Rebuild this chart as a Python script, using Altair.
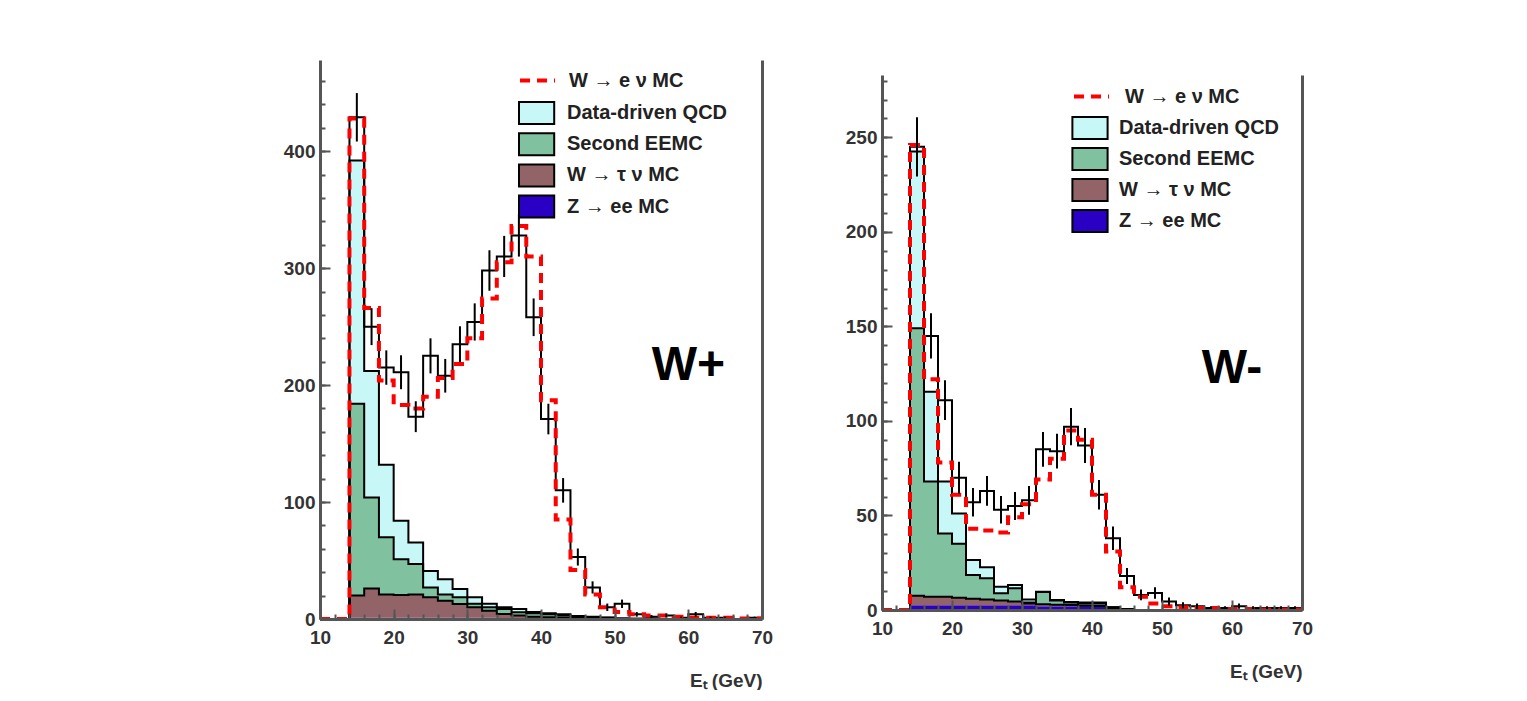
import altair as alt
import pandas as pd

# ---------------- data ----------------
bin_lo = [10, 12, 14, 16, 18, 20, 22, 24, 26, 28, 30, 32, 34, 36, 38,
          40, 42, 44, 46, 48, 50, 52, 54, 56, 58, 60, 62, 64, 66, 68]
bin_hi = [12, 14, 16, 18, 20, 22, 24, 26, 28, 30, 32, 34, 36, 38, 40,
          42, 44, 46, 48, 50, 52, 54, 56, 58, 60, 62, 64, 66, 68, 70]

comp_names = ["Data-driven QCD", "Second EEMC", "W → τ ν MC", "Z → ee MC"]
comp_colors = ["#c8f7f7", "#80c2a0", "#926468", "#2a00c4"]
mc_name = "W → e ν MC"

x_major_ticks = [10, 20, 30, 40, 50, 60, 70]
x_minor_ticks = [10, 12, 14, 16, 18, 20, 22, 24, 26, 28, 30, 32, 34, 36, 38, 40,
                 42, 44, 46, 48, 50, 52, 54, 56, 58, 60, 62, 64, 66, 68, 70]
x_title = "Eₜ (GeV)"

# W+ panel
wp_data = [0, 0, 429, 250, 215, 211, 173, 225, 208, 235, 254, 298, 310, 328, 258,
           171, 110, 53, 27, 10, 13, 4, 2, 3, 1, 4, 1, 1, 0, 1]
wp_err = [0, 0, 20.7, 15.8, 14.7, 14.5, 13.2, 15, 14.4, 15.3, 15.9, 17.3, 17.6, 18.1, 16.1,
          13.1, 10.5, 7.3, 5.2, 3.2, 3.6, 2, 1.4, 1.7, 1, 2, 1, 1, 0, 1]
wp_mc = [0, 0, 428, 266, 204, 183, 180, 190, 206, 218, 240, 274, 305, 336, 310,
         187, 85, 42, 21, 10, 6, 4, 3, 3, 2, 1, 1, 1, 0.5, 0.5]
wp_z = [0, 0, 1, 1, 1, 1, 1, 1, 1, 1, 1, 1, 0.8, 0.8, 0.6,
        0.5, 0.4, 0.3, 0.2, 0.1, 0, 0, 0, 0, 0, 0, 0, 0, 0, 0]
wp_tau = [0, 0, 19, 25, 20, 19.5, 20, 17.5, 14.7, 11.8, 9, 6, 3.5, 2.2, 1.4,
          1, 0.6, 0.5, 0.3, 0.2, 0, 0, 0, 0, 0, 0, 0, 0, 0, 0]
wp_eemc = [0, 0, 164, 78, 49, 30.5, 26, 8.5, 5.3, 5.7, 3, 3, 4.2, 2.7, 3,
           2.5, 2, 1.2, 1, 0.7, 0.5, 0.3, 0.2, 0, 0, 0, 0, 0, 0, 0]
wp_qcd = [0, 0, 208, 108, 62, 33, 18.5, 14, 13, 7.1, 5.5, 3, 1.5, 2.8, 1,
          1, 1, 0.5, 0.5, 0.3, 0, 0, 0, 0, 0, 0, 0, 0, 0, 0]
wp_ymax = 478
wp_y_major = [0, 100, 200, 300, 400]
wp_y_minor = [0, 20, 40, 60, 80, 100, 120, 140, 160, 180, 200, 220, 240, 260, 280,
              300, 320, 340, 360, 380, 400, 420, 440, 460]
wp_label = "W+"
wp_label_pos = (60, 204)

# W- panel
wm_data = [0, 0, 245, 145, 111, 70, 57, 63, 53, 55, 58, 85, 84, 97, 87,
           61, 38, 18, 8, 9, 4.5, 2.5, 2, 1, 1, 2, 1, 1, 1, 1]
wm_err = [0, 0, 15.7, 12, 10.5, 8.4, 7.5, 7.9, 7.3, 7.4, 7.6, 9.2, 9.2, 9.8, 9.3,
          7.8, 6.2, 4.2, 2.8, 3, 2.1, 1.6, 1.4, 1, 1, 1.4, 1, 1, 1, 1]
wm_mc = [0, 0, 246, 122, 78, 61, 43, 42, 41, 49, 56, 69, 80, 95, 90,
         61, 31, 12, 7, 3.5, 2, 1.5, 1, 1, 0.5, 0.5, 0.5, 0.3, 0.3, 0.3]
wm_z = [0, 0, 2.5, 2.5, 2.5, 2.5, 2.5, 2.5, 2.5, 2.5, 2.5, 2, 2, 2, 2,
        2, 1, 0.5, 0, 0, 0, 0, 0, 0, 0, 0, 0, 0, 0, 0]
wm_tau = [0, 0, 5, 4.5, 4.5, 4, 3.5, 3, 2.5, 2, 1, 1, 0.8, 0.6, 0.2,
          0.1, 0, 0, 0, 0, 0, 0, 0, 0, 0, 0, 0, 0, 0, 0]
wm_eemc = [0, 0, 141.5, 61, 33.5, 28.5, 12.5, 11.3, 3.8, 7, 0.5, 6.5, 2.2, 1.4, 1.3,
           1.4, 0.5, 0, 0, 0, 0, 0, 0, 0, 0, 0, 0, 0, 0, 0]
wm_qcd = [0, 0, 93.5, 47.5, 27.5, 16, 8, 5.8, 3.5, 1.7, 1.5, 0.2, 0.3, 0.2, 0.5,
          0.5, 0, 0, 0, 0, 0, 0, 0, 0, 0, 0, 0, 0, 0, 0]
wm_ymax = 283
wm_y_major = [0, 50, 100, 150, 200, 250]
wm_y_minor = [0, 10, 20, 30, 40, 50, 60, 70, 80, 90, 100, 110, 120, 130, 140,
              150, 160, 170, 180, 190, 200, 210, 220, 230, 240, 250, 260, 270, 280]
wm_label = "W-"
wm_label_pos = (60, 120)

# ---------------- styling ----------------
FONT = "Liberation Sans"
AX = "#555555"
BOX_PATH = "M-1.6,-1H1.6V1H-1.6Z"
TICK_FS = 19
LEG_FS = 20


def panel(data, err, mc, z, tau, eemc, qcd, ymax, y_major, y_minor,
          label, label_pos, w, h, top_gap,
          leg_x_line, leg_y_line, off_line, leg_x_fill, leg_y_fill, off_fill, row_pad):
    n = len(bin_lo)
    xs = alt.Scale(domain=[10, 70], nice=False, zero=False)
    ys = alt.Scale(domain=[0, ymax], nice=False, range=[h, top_gap])

    area_rows, outline_rows = [], []
    base = [0.0] * n
    for name, vals in [(comp_names[3], z), (comp_names[2], tau),
                       (comp_names[1], eemc), (comp_names[0], qcd)]:
        top = [b + v for b, v in zip(base, vals)]
        xs_pts = bin_lo + [bin_hi[-1]]
        b_pts = base + [base[-1]]
        t_pts = top + [top[-1]]
        for x, b0, t0 in zip(xs_pts, b_pts, t_pts):
            area_rows.append({"x": x, "y0": b0, "y1": t0, "comp": name})
            if name != comp_names[3]:
                outline_rows.append({"x": x, "y": t0, "comp": name})
        base = top
    area_df = pd.DataFrame(area_rows)
    outline_df = pd.DataFrame(outline_rows)

    data_df = pd.DataFrame({"x": bin_lo + [bin_hi[-1]], "y": data + [data[-1]]})
    mc_df = pd.DataFrame({"x": bin_lo + [bin_hi[-1]], "y": mc + [mc[-1]],
                          "series": [mc_name] * (n + 1)})
    err_df = pd.DataFrame({"xc": [(a + b) / 2 for a, b in zip(bin_lo, bin_hi)],
                           "ylo": [d - e for d, e in zip(data, err)],
                           "yhi": [d + e for d, e in zip(data, err)],
                           "e": err})
    err_df = err_df[err_df["e"] > 0]
    lab_df = pd.DataFrame({"x": [label_pos[0]], "y": [label_pos[1]], "t": [label]})

    x_major = alt.Axis(values=x_major_ticks, orient="bottom", offset=-10, tickSize=10,
                       tickWidth=2, tickColor=AX, domain=False, grid=False,
                       labelPadding=9, labelFlush=False, format="d",
                       title=x_title, titleAnchor="end",
                       titleAlign="right", titlePadding=24, zindex=1)
    x_minor = alt.Axis(values=x_minor_ticks, orient="bottom", offset=-5, tickSize=5,
                       tickWidth=2, tickColor=AX, domain=False, grid=False,
                       labels=False, title=None, zindex=1)
    x_dom = alt.Axis(orient="bottom", offset=0, ticks=False, labels=False, grid=False,
                     domain=True, domainColor=AX, domainWidth=3, title=None, zindex=1)
    y_maj = alt.Axis(values=y_major, orient="left", offset=-10, tickSize=10,
                     tickWidth=2, tickColor=AX, domain=False, grid=False,
                     labelPadding=5, labelFlush=False, title=None, zindex=1)
    y_min = alt.Axis(values=y_minor, orient="left", offset=-5, tickSize=5,
                     tickWidth=2, tickColor=AX, domain=False, grid=False,
                     labels=False, title=None, zindex=1)
    y_dom = alt.Axis(orient="left", offset=0, ticks=False, labels=False, grid=False,
                     domain=True, domainColor=AX, domainWidth=3, title=None, zindex=1)
    y_right = alt.Axis(orient="right", offset=0, ticks=False, labels=False, grid=False,
                       domain=True, domainColor=AX, domainWidth=3, title=None, zindex=1)

    fill_scale = alt.Scale(domain=comp_names, range=comp_colors)
    areas = alt.Chart(area_df).mark_area(interpolate="step-after", opacity=1).encode(
        x=alt.X("x:Q", scale=xs, axis=x_major),
        y=alt.Y("y0:Q", scale=ys, axis=y_maj),
        y2="y1:Q",
        color=alt.Color("comp:N", scale=fill_scale,
                        legend=alt.Legend(title=None, orient="none", legendX=leg_x_fill,
                                          legendY=leg_y_fill, symbolType=BOX_PATH,
                                          symbolSize=484, symbolStrokeColor="black",
                                          symbolStrokeWidth=2, symbolOpacity=1,
                                          rowPadding=row_pad, labelOffset=off_fill,
                                          labelLimit=400, padding=0)),
    )
    outlines = alt.Chart(outline_df).mark_line(
        interpolate="step-after", color="black", strokeWidth=2
    ).encode(
        x=alt.X("x:Q", scale=xs, axis=x_minor),
        y=alt.Y("y:Q", scale=ys, axis=y_min),
        detail="comp:N",
    )
    data_line = alt.Chart(data_df).mark_line(
        interpolate="step-after", color="black", strokeWidth=2
    ).encode(
        x=alt.X("x:Q", scale=xs, axis=x_dom),
        y=alt.Y("y:Q", scale=ys, axis=y_dom),
    )
    mc_line = alt.Chart(mc_df).mark_line(
        interpolate="step-after", color="#ff0000", strokeWidth=4
    ).encode(
        x=alt.X("x:Q", scale=xs, axis=None),
        y=alt.Y("y:Q", scale=ys, axis=y_right),
        strokeDash=alt.StrokeDash("series:N",
                                  scale=alt.Scale(domain=[mc_name], range=[[10, 7]]),
                                  legend=alt.Legend(title=None, orient="none",
                                                    legendX=leg_x_line, legendY=leg_y_line,
                                                    symbolType="stroke", symbolSize=1225,
                                                    symbolStrokeColor="#ff0000",
                                                    symbolStrokeWidth=4, labelLimit=400,
                                                    labelOffset=off_line, padding=0)),
    )
    errs = alt.Chart(err_df).mark_rule(color="black", strokeWidth=2).encode(
        x=alt.X("xc:Q", scale=xs, axis=None),
        y=alt.Y("ylo:Q", scale=ys, axis=None),
        y2="yhi:Q",
    )
    text = alt.Chart(lab_df).mark_text(
        font=FONT, fontSize=48, fontWeight="bold", color="black",
        align="center", baseline="alphabetic"
    ).encode(
        x=alt.X("x:Q", scale=xs, axis=None),
        y=alt.Y("y:Q", scale=ys, axis=None),
        text="t:N",
    )
    return alt.layer(areas, outlines, data_line, mc_line, errs, text).resolve_axis(
        x="independent", y="independent"
    ).properties(width=w, height=h)


wp = panel(wp_data, wp_err, wp_mc, wp_z, wp_tau, wp_eemc, wp_qcd, wp_ymax,
           wp_y_major, wp_y_minor, wp_label, wp_label_pos, 442, 559, 0,
           198, 1, 12, 204.6, 41, 18.4, 1.2)
wm = panel(wm_data, wm_err, wm_mc, wm_z, wm_tau, wm_eemc, wm_qcd, wm_ymax,
           wm_y_major, wm_y_minor, wm_label, wm_label_pos, 420, 550, 15,
           190, 17, 14, 196, 56, 17, 1)

chart = alt.hconcat(wp, wm, spacing=72).resolve_scale(
    color="independent", strokeDash="independent"
).resolve_legend(
    color="independent", strokeDash="independent"
).properties(
    padding={"left": 283, "top": 60, "right": 0, "bottom": 0},
    background="white",
).configure_view(stroke=None).configure_axis(
    labelFont=FONT, labelFontWeight="bold", labelFontSize=TICK_FS, labelColor="#333333",
    titleFont=FONT, titleFontWeight="bold", titleFontSize=TICK_FS, titleColor="#333333",
).configure_legend(
    labelFont=FONT, labelFontWeight="bold", labelFontSize=LEG_FS, labelColor="#222222",
)

chart.save("out.html", embed_options={"renderer": "svg", "actions": False})
